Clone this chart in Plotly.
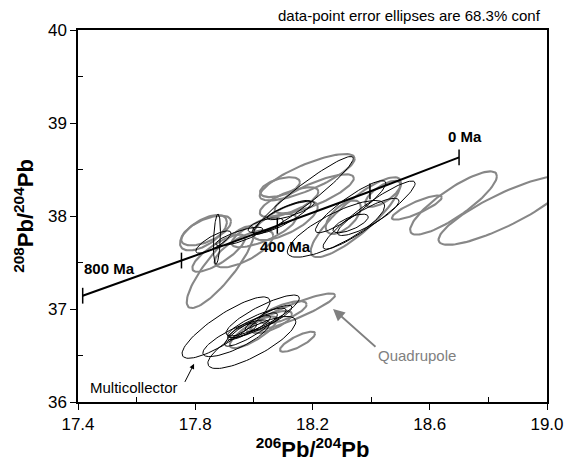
import numpy as np
import plotly.graph_objects as go

# Stacey-Kramers growth curve (ages in Ma and ratios)
sk_age = [0, 100, 200, 300, 400, 500, 600, 700, 800]
sk_x = [18.700, 18.551, 18.396, 18.239, 18.080, 17.918, 17.753, 17.586, 17.416]
sk_y = [38.630, 38.448, 38.264, 38.080, 37.894, 37.708, 37.521, 37.332, 37.143]
tick_ages = [0, 200, 400, 600, 800]
label_ages = ["0 Ma", "400 Ma", "800 Ma"]
label_x = [18.72, 18.107, 17.506]
label_y = [38.85, 37.667, 37.44]

# Quadrupole ellipses: centre x, centre y, half-width x, half-height y, correlation
q_x = [18.182, 17.886, 17.837, 17.966, 18.034, 18.108, 18.120, 18.089, 18.206, 18.348,
       18.305, 18.440, 18.556, 18.681, 18.850, 18.132, 18.149, 17.998, 18.100, 18.060,
       17.828, 17.880]
q_y = [38.417, 37.450, 37.844, 37.647, 37.844, 37.950, 38.149, 38.310, 38.238, 37.987,
       37.987, 38.238, 38.090, 38.140, 38.060, 36.967, 36.648, 36.750, 36.965, 36.860,
       37.820, 37.600]
q_ax = [0.162, 0.115, 0.085, 0.100, 0.110, 0.110, 0.100, 0.068, 0.135, 0.154,
        0.060, 0.060, 0.085, 0.148, 0.220, 0.145, 0.060, 0.080, 0.080, 0.070,
        0.080, 0.090]
q_ay = [0.250, 0.440, 0.160, 0.200, 0.180, 0.210, 0.160, 0.107, 0.210, 0.430,
        0.180, 0.140, 0.130, 0.340, 0.370, 0.200, 0.108, 0.170, 0.120, 0.120,
        0.190, 0.200]
q_rho = [0.80, 0.85, 0.60, 0.70, 0.75, 0.70, 0.70, 0.50, 0.80, 0.85,
         0.60, 0.70, 0.85, 0.85, 0.85, 0.90, 0.80, 0.80, 0.70, 0.70,
         0.60, 0.80]

# Multicollector ellipses
m_x = [18.393, 18.280, 18.390, 18.330, 18.169, 17.862, 18.095, 18.126, 17.874, 17.950,
       18.040, 18.330, 17.905, 17.940, 17.993, 18.030, 17.987, 18.010, 17.960, 18.050,
       17.990]
m_y = [38.010, 37.862, 37.990, 37.920, 38.220, 37.720, 37.987, 38.060, 37.750, 37.780,
       37.900, 38.100, 36.800, 36.685, 36.640, 36.930, 36.810, 36.850, 36.760, 36.900,
       36.780]
m_ax = [0.157, 0.166, 0.105, 0.060, 0.170, 0.060, 0.100, 0.080, 0.012, 0.080,
        0.060, 0.120, 0.150, 0.114, 0.150, 0.125, 0.070, 0.100, 0.050, 0.080,
        0.090]
m_ay = [0.366, 0.305, 0.200, 0.100, 0.420, 0.120, 0.180, 0.100, 0.270, 0.100,
        0.080, 0.280, 0.330, 0.197, 0.280, 0.220, 0.120, 0.160, 0.090, 0.140,
        0.180]
m_rho = [0.93, 0.80, 0.85, 0.70, 0.95, 0.80, 0.85, 0.80, 0.30, 0.80,
         0.60, 0.90, 0.85, 0.80, 0.80, 0.85, 0.85, 0.85, 0.80, 0.85,
         0.88]


def ellipse_path(cx, cy, ax, ay, rho, n=90):
    xs, ys = [], []
    t = np.linspace(0, 2 * np.pi, n)
    for a, b, sa, sb, r in zip(cx, cy, ax, ay, rho):
        ex = a + sa * np.cos(t)
        ey = b + sb * (r * np.cos(t) + np.sqrt(1 - r * r) * np.sin(t))
        xs.extend(ex.tolist() + [None])
        ys.extend(ey.tolist() + [None])
    return xs, ys


FONT = "Liberation Sans"
fig = go.Figure()

qx, qy = ellipse_path(q_x, q_y, q_ax, q_ay, q_rho)
fig.add_trace(go.Scatter(x=qx, y=qy, mode="lines",
                         line=dict(color="rgb(135,135,135)", width=2.1),
                         hoverinfo="skip", showlegend=False))
mx, my = ellipse_path(m_x, m_y, m_ax, m_ay, m_rho)
fig.add_trace(go.Scatter(x=mx, y=my, mode="lines",
                         line=dict(color="black", width=1),
                         hoverinfo="skip", showlegend=False))

# growth curve
fig.add_trace(go.Scatter(x=sk_x, y=sk_y, mode="lines",
                         line=dict(color="black", width=2),
                         hoverinfo="skip", showlegend=False))
# age ticks
tx, ty = [], []
for age in tick_ages:
    i = sk_age.index(age)
    tx += [sk_x[i], sk_x[i], None]
    ty += [sk_y[i] - 0.085, sk_y[i] + 0.085, None]
fig.add_trace(go.Scatter(x=tx, y=ty, mode="lines",
                         line=dict(color="black", width=1.5),
                         hoverinfo="skip", showlegend=False))

ann = []
for lab, px, py in zip(label_ages, label_x, label_y):
    ann.append(dict(x=px, y=py, xref="x", yref="y", text="<b>" + lab + "</b>",
                    showarrow=False, font=dict(family=FONT, size=15, color="black")))

ann.append(dict(x=18.557, y=36.495, xref="x", yref="y", text="Quadrupole", showarrow=False,
                font=dict(family=FONT, size=15, color="rgb(128,128,128)")))
ann.append(dict(x=18.27, y=37.0, ax=18.42, ay=36.58, xref="x", yref="y", axref="x", ayref="y",
                text="", showarrow=True, arrowhead=2, arrowsize=1.3, arrowwidth=1.8,
                arrowcolor="rgb(128,128,128)"))
ann.append(dict(x=17.591, y=36.161, xref="x", yref="y", text="Multicollector", showarrow=False,
                font=dict(family=FONT, size=15, color="black")))
ann.append(dict(x=17.796, y=36.41, ax=17.762, ay=36.2, xref="x", yref="y", axref="x", ayref="y",
                text="", showarrow=True, arrowhead=2, arrowsize=1, arrowwidth=1,
                arrowcolor="black"))
ann.append(dict(x=0.992, y=1, xref="paper", yref="paper", xanchor="right", yanchor="bottom",
                yshift=4, text="data-point error ellipses are 68.3% conf", showarrow=False,
                font=dict(family=FONT, size=15, color="black")))

axis_common = dict(showgrid=False, zeroline=False, showline=True, linecolor="black",
                   linewidth=1.5, mirror=True, ticks="outside", ticklen=6, tickwidth=1,
                   tickcolor="black", automargin=False,
                   tickfont=dict(family=FONT, size=17, color="black"))

fig.update_layout(
    width=565, height=464,
    margin=dict(l=78, r=18, t=30, b=62),
    plot_bgcolor="white", paper_bgcolor="white",
    annotations=ann,
    xaxis=dict(range=[17.4, 19.0], tickvals=[17.4, 17.8, 18.2, 18.6, 19.0],
               ticktext=["17.4", "17.8", "18.2", "18.6", "19.0"],
               minor=dict(tickvals=[17.6, 18.0, 18.4, 18.8], ticks="inside", ticklen=5,
                          tickcolor="black"),
               title=dict(text="<b><sup>206</sup>Pb/<sup>204</sup>Pb</b>", standoff=8,
                          font=dict(family=FONT, size=22, color="black")),
               **axis_common),
    yaxis=dict(range=[36, 40], tickvals=[36, 37, 38, 39, 40],
               minor=dict(tickvals=[36.5, 37.5, 38.5, 39.5], ticks="inside", ticklen=5,
                          tickcolor="black"),
               title=dict(text="<b><sup>208</sup>Pb/<sup>204</sup>Pb</b>", standoff=8,
                          font=dict(family=FONT, size=22, color="black")),
               **axis_common),
)

fig.write_html("out.html", config={"displayModeBar": False},
               post_script="document.body.style.margin='0px';")
